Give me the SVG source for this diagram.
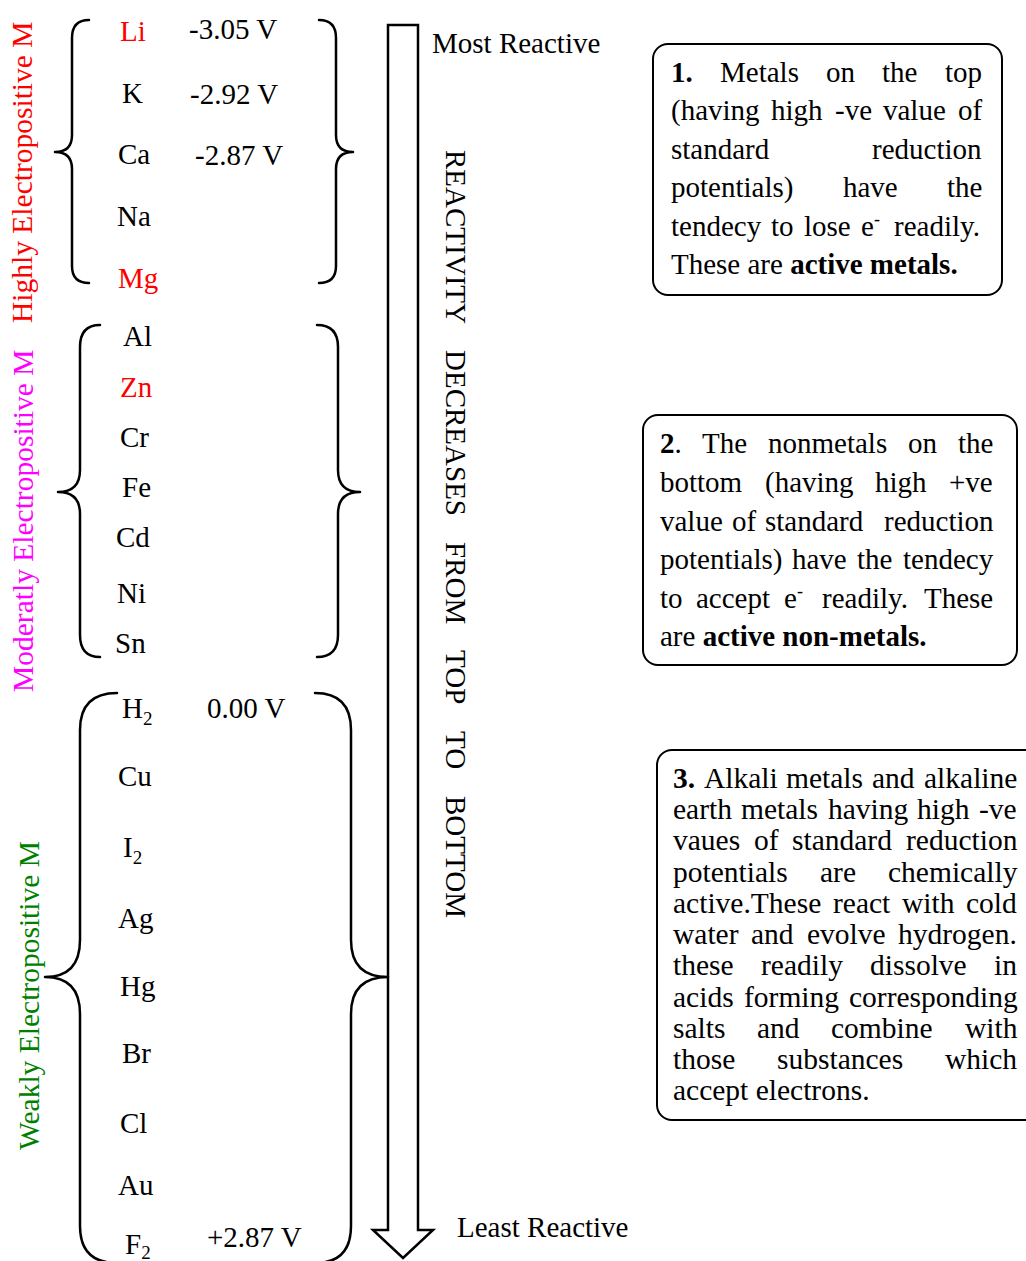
<svg xmlns="http://www.w3.org/2000/svg" width="1026" height="1261" viewBox="0 0 1026 1261">
<style>
.t{font-family:"Liberation Serif","Times New Roman",serif;font-size:29px;fill:#000}
.b{font-weight:bold}
.red{fill:#FF0000}.mag{fill:#FF00FF}.grn{fill:#008000}
.side{font-size:29.5px}
.b3{font-size:29.5px}
.sup{font-size:18px}
.sub{font-size:19px}
.brace{fill:none;stroke:#000;stroke-width:2.5;stroke-linecap:round;stroke-linejoin:round}
.box{fill:#fff;stroke:#000;stroke-width:2}
.arrow{fill:#fff;stroke:#000;stroke-width:2.5;stroke-linejoin:miter}
</style>
<rect width="1026" height="1261" fill="#fff"/>

<g id="connectors">
  <polygon class="arrow" points="388,25 418,25 418,1230 433,1230 403,1258 373,1230 388,1230"/>
</g>

<g id="side-labels">
  <text class="t side red" transform="translate(32,323) rotate(-90)">Highly Electropositive M</text>
  <text class="t side mag" transform="translate(33,692) rotate(-90)">Moderatly Electropositive M</text>
  <text class="t side grn" transform="translate(39,1150) rotate(-90)">Weakly Electropositive M</text>
</g>

<g id="group-highly">
  <path class="brace" d="M89,20 Q72,20 72,38 L72,135 Q72,152 55,152 Q72,152 72,169 L72,266 Q72,283 89,283"/>
  <path class="brace" d="M319,20 Q336,20 336,38 L336,135 Q336,152 353,152 Q336,152 336,169 L336,266 Q336,283 319,283"/>
  <text class="t red" x="120" y="41">Li</text>
  <text class="t" x="189" y="39">-3.05 V</text>
  <text class="t" x="122" y="103">K</text>
  <text class="t" x="190" y="104">-2.92 V</text>
  <text class="t" x="118" y="164">Ca</text>
  <text class="t" x="195" y="165">-2.87 V</text>
  <text class="t" x="117" y="226">Na</text>
  <text class="t red" x="118" y="288">Mg</text>
</g>

<g id="group-moderately">
  <path class="brace" d="M100,325 Q80,325 80,347 L80,470 Q80,492 58,492 Q80,492 80,514 L80,635 Q80,657 100,657"/>
  <path class="brace" d="M317,325 Q338,325 338,347 L338,470 Q338,492 360,492 Q338,492 338,514 L338,635 Q338,657 317,657"/>
  <text class="t" x="123" y="346">Al</text>
  <text class="t red" x="120" y="397">Zn</text>
  <text class="t" x="120" y="447">Cr</text>
  <text class="t" x="122" y="497">Fe</text>
  <text class="t" x="116" y="547">Cd</text>
  <text class="t" x="117" y="603">Ni</text>
  <text class="t" x="115" y="653">Sn</text>
</g>

<g id="group-weakly">
  <path class="brace" d="M117,693 Q80,693 80,730 L80,940 Q80,977 45,977 Q80,977 80,1014 L80,1226 Q80,1263 117,1263"/>
  <path class="brace" d="M315,693 Q351,693 351,730 L351,940 Q351,977 388,977 Q351,977 351,1014 L351,1226 Q351,1263 315,1263"/>
  <text class="t" x="122" y="718">H<tspan class="sub" dy="7">2</tspan></text>
  <text class="t" x="207" y="718">0.00 V</text>
  <text class="t" x="118" y="786">Cu</text>
  <text class="t" x="123" y="857">I<tspan class="sub" dy="7">2</tspan></text>
  <text class="t" x="118" y="928">Ag</text>
  <text class="t" x="120" y="996">Hg</text>
  <text class="t" x="122" y="1063">Br</text>
  <text class="t" x="120" y="1133">Cl</text>
  <text class="t" x="118" y="1195">Au</text>
  <text class="t" x="125" y="1254">F<tspan class="sub" dy="5">2</tspan></text>
  <text class="t" x="207" y="1247">+2.87 V</text>
</g>

<g id="reactivity-labels">
  <text class="t" x="432" y="53">Most Reactive</text>
  <text class="t" x="457" y="1237">Least Reactive</text>
  <text class="t" transform="translate(446,0) rotate(90)"><tspan x="150">REACTIVITY</tspan><tspan x="350">DECREASES</tspan><tspan x="542">FROM</tspan><tspan x="650">TOP</tspan><tspan x="731">TO</tspan><tspan x="796">BOTTOM</tspan></text>
</g>

<g id="note-1">
  <rect class="box" x="653" y="44" width="349" height="251" rx="15"/>
  <text class="t" y="82"><tspan class="b" x="671">1.</tspan><tspan x="720">Metals</tspan><tspan x="826">on</tspan><tspan x="882">the</tspan><tspan x="945">top</tspan></text>
  <text class="t" y="120"><tspan x="671">(having</tspan><tspan x="771">high</tspan><tspan x="835">-ve</tspan><tspan x="883">value</tspan><tspan x="958">of</tspan></text>
  <text class="t" y="159"><tspan x="671">standard</tspan><tspan x="872">reduction</tspan></text>
  <text class="t" y="197"><tspan x="671">potentials)</tspan><tspan x="843">have</tspan><tspan x="947">the</tspan></text>
  <text class="t" y="236"><tspan x="671">tendecy</tspan><tspan x="771">to</tspan><tspan x="804">lose</tspan><tspan x="861">e</tspan><tspan class="sup" x="874" y="225">-</tspan><tspan x="894" y="236">readily.</tspan></text>
  <text class="t" x="671" y="274">These are <tspan class="b">active metals.</tspan></text>
</g>

<g id="note-2">
  <rect class="box" x="643" y="415" width="374" height="250" rx="15"/>
  <text class="t" y="453"><tspan class="b" x="660">2</tspan>.<tspan x="702">The</tspan><tspan x="768">nonmetals</tspan><tspan x="908">on</tspan><tspan x="958">the</tspan></text>
  <text class="t" y="492"><tspan x="660">bottom</tspan><tspan x="765">(having</tspan><tspan x="875">high</tspan><tspan x="949">+ve</tspan></text>
  <text class="t" y="531"><tspan x="660">value</tspan><tspan x="732">of</tspan><tspan x="765">standard</tspan><tspan x="884">reduction</tspan></text>
  <text class="t" y="569"><tspan x="660">potentials)</tspan><tspan x="792">have</tspan><tspan x="857">the</tspan><tspan x="903">tendecy</tspan></text>
  <text class="t" y="608"><tspan x="660">to</tspan><tspan x="696">accept</tspan><tspan x="784">e</tspan><tspan class="sup" x="797" y="597">-</tspan><tspan x="822" y="608">readily.</tspan><tspan x="924">These</tspan></text>
  <text class="t" x="660" y="646">are <tspan class="b">active non-metals.</tspan></text>
</g>

<g id="note-3">
  <rect class="box" x="657" y="750" width="400" height="370" rx="15"/>
  <text class="t b3" y="788"><tspan class="b" x="673">3.</tspan><tspan x="704">Alkali</tspan><tspan x="786">metals</tspan><tspan x="872">and</tspan><tspan x="924">alkaline</tspan></text>
  <text class="t b3" y="819"><tspan x="673">earth</tspan><tspan x="741">metals</tspan><tspan x="828">having</tspan><tspan x="917">high</tspan><tspan x="979">-ve</tspan></text>
  <text class="t b3" y="850"><tspan x="673">vaues</tspan><tspan x="754">of</tspan><tspan x="792">standard</tspan><tspan x="906">reduction</tspan></text>
  <text class="t b3" y="882"><tspan x="673">potentials</tspan><tspan x="820">are</tspan><tspan x="888">chemically</tspan></text>
  <text class="t b3" y="913"><tspan x="673">active.These</tspan><tspan x="833">react</tspan><tspan x="902">with</tspan><tspan x="966">cold</tspan></text>
  <text class="t b3" y="944"><tspan x="673">water</tspan><tspan x="751">and</tspan><tspan x="807">evolve</tspan><tspan x="898">hydrogen.</tspan></text>
  <text class="t b3" y="975"><tspan x="673">these</tspan><tspan x="761">readily</tspan><tspan x="870">dissolve</tspan><tspan x="994">in</tspan></text>
  <text class="t b3" y="1007"><tspan x="673">acids</tspan><tspan x="744">forming</tspan><tspan x="849">corresponding</tspan></text>
  <text class="t b3" y="1038"><tspan x="673">salts</tspan><tspan x="757">and</tspan><tspan x="831">combine</tspan><tspan x="965">with</tspan></text>
  <text class="t b3" y="1069"><tspan x="673">those</tspan><tspan x="777">substances</tspan><tspan x="945">which</tspan></text>
  <text class="t b3" x="673" y="1100">accept electrons.</text>
</g>
</svg>
